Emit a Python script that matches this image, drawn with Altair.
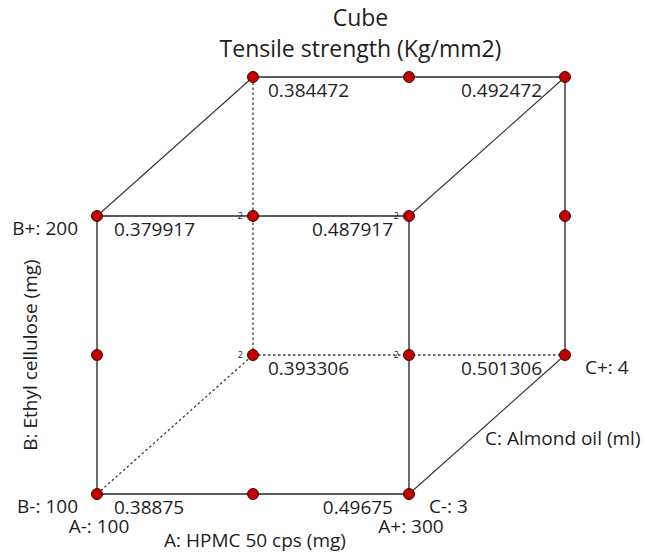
import altair as alt
import pandas as pd

# ---- data (coded levels -1/0/+1 of factors A, B, C) ----
corner_A = [-1, 1, -1, 1, -1, 1, -1, 1]
corner_B = [-1, -1, 1, 1, -1, -1, 1, 1]
corner_C = [-1, -1, -1, -1, 1, 1, 1, 1]
tensile = [0.38875, 0.49675, 0.379917, 0.487917, 0.393306, 0.501306, 0.384472, 0.492472]

# other design points (edge midpoints)
mid_A = [0, -1, 0, 1, 0, 1]
mid_B = [-1, 0, 1, 0, 1, 0]
mid_C = [-1, -1, -1, -1, 1, 1]

# replicated points
rep_A = [0, 1, -1, 1]
rep_B = [1, 1, -1, 0]
rep_C = [-1, -1, 1, -1]
rep_n = ["2", "2", "2", "2"]

A_levels = ["A-: 100", "A+: 300"]
B_levels = ["B-: 100", "B+: 200"]
C_levels = ["C-: 3", "C+: 4"]
title_lines = ["Cube", "Tensile strength (Kg/mm2)"]
A_title = "A: HPMC 50 cps (mg)"
B_title = "B: Ethyl cellulose  (mg)"
C_title = "C: Almond oil (ml)"

FONT = "Open Sans"
TXT = "#1e1e1e"

corners = pd.DataFrame({"A": corner_A, "B": corner_B, "C": corner_C, "y": tensile})
corners["label"] = [f"{v:g}" for v in tensile]
points = pd.concat([
    corners[["A", "B", "C"]],
    pd.DataFrame({"A": mid_A, "B": mid_B, "C": mid_C}),
], ignore_index=True)
reps = pd.DataFrame({"A": rep_A, "B": rep_B, "C": rep_C, "n": rep_n})

# cube edges: corner pairs differing in exactly one factor
rows = []
for i in range(8):
    for j in range(i + 1, 8):
        p = (corner_A[i], corner_B[i], corner_C[i])
        q = (corner_A[j], corner_B[j], corner_C[j])
        diff = [k for k in range(3) if p[k] != q[k]]
        if len(diff) == 1:
            hidden = (-1, -1, 1) in (p, q)
            rows.append({"A": p[0], "B": p[1], "C": p[2],
                         "A2": q[0], "B2": q[1], "C2": q[2],
                         "depth": diff[0] == 2, "hidden": hidden})
edges = pd.DataFrame(rows)

A_lab = pd.DataFrame({"A": [-1, 1], "B": [-1, -1], "C": [-1, -1], "t": A_levels})
B_lab = pd.DataFrame({"A": [-1, -1], "B": [-1, 1], "C": [-1, -1], "t": B_levels})
C_lab = pd.DataFrame({"A": [1, 1], "B": [-1, -1], "C": [-1, 1], "t": C_levels})
A_ttl = pd.DataFrame({"A": [0], "B": [-1], "C": [-1], "t": [A_title]})
B_ttl = pd.DataFrame({"A": [-1], "B": [0], "C": [-1], "t": [B_title]})
C_ttl = pd.DataFrame({"A": [1], "B": [-1], "C": [0], "t": [C_title]})

xs = alt.Scale(domain=[-1.6218, 2.5128], nice=False, zero=False)
ys = alt.Scale(domain=[-1.4388, 2.1223], nice=False, zero=False)


def proj(ch):
    return ch.transform_calculate(
        px="datum.A + (datum.C + 1) / 2",
        py="datum.B + (datum.C + 1) / 2",
    )


def proj_edges(ch):
    return ch.transform_calculate(
        px="datum.A + (datum.C + 1) / 2",
        py="datum.B + (datum.C + 1) / 2",
        px2="datum.A2 + (datum.C2 + 1) / 2",
        py2="datum.B2 + (datum.C2 + 1) / 2",
    )


enc = dict(x=alt.X("px:Q", scale=xs, axis=None), y=alt.Y("py:Q", scale=ys, axis=None))

face = proj_edges(alt.Chart(edges)).transform_filter(
    "!datum.hidden && !datum.depth").mark_rule(color="#5c5c5c", strokeWidth=1.8).encode(
    **enc, x2="px2:Q", y2="py2:Q")
depth = proj_edges(alt.Chart(edges)).transform_filter(
    "!datum.hidden && datum.depth").mark_rule(color="#333333", strokeWidth=1.1).encode(
    **enc, x2="px2:Q", y2="py2:Q")
hidden = proj_edges(alt.Chart(edges)).transform_filter(
    "datum.hidden").mark_rule(color="#3c3c3c", strokeWidth=1.3, strokeDash=[2.5, 2.5]).encode(
    **enc, x2="px2:Q", y2="py2:Q")

dots = proj(alt.Chart(points)).mark_point(
    shape="circle", filled=True, size=120, fill="#c40000", stroke="#3a0000",
    strokeWidth=1, opacity=1).encode(**enc)

rep_txt = proj(alt.Chart(reps)).mark_text(
    align="right", baseline="middle", dx=-10, fontSize=9, font=FONT, color="#222").encode(
    **enc, text="n:N")

val_style = dict(baseline="middle", dy=14, fontSize=19, font=FONT, color=TXT)
v_fl = proj(alt.Chart(corners)).transform_filter("datum.C < 0 && datum.A < 0").mark_text(
    align="left", dx=17, **val_style).encode(**enc, text="label:N")
v_fr = proj(alt.Chart(corners)).transform_filter("datum.C < 0 && datum.A > 0").mark_text(
    align="right", dx=-16, **val_style).encode(**enc, text="label:N")
v_bl = proj(alt.Chart(corners)).transform_filter("datum.C > 0 && datum.A < 0").mark_text(
    align="left", dx=15, **val_style).encode(**enc, text="label:N")
v_br = proj(alt.Chart(corners)).transform_filter("datum.C > 0 && datum.A > 0").mark_text(
    align="right", dx=-23, **val_style).encode(**enc, text="label:N")

lab_style = dict(baseline="middle", fontSize=19, font=FONT, color=TXT)
a_txt = proj(alt.Chart(A_lab)).mark_text(align="center", dx=2, dy=33, **lab_style).encode(**enc, text="t:N")
b_txt = proj(alt.Chart(B_lab)).mark_text(align="right", dx=-19, dy=13, **lab_style).encode(**enc, text="t:N")
c_txt = proj(alt.Chart(C_lab)).mark_text(align="left", dx=20, dy=13, **lab_style).encode(**enc, text="t:N")
a_ttl = proj(alt.Chart(A_ttl)).mark_text(align="center", dx=2, dy=47, **lab_style).encode(**enc, text="t:N")
b_ttl = proj(alt.Chart(B_ttl)).mark_text(align="center", dx=0, dy=-66, angle=270, **lab_style).encode(**enc, text="t:N")
c_ttl = proj(alt.Chart(C_ttl)).mark_text(align="left", dx=-2, dy=14, fontSize=19, font=FONT,
                                         baseline="middle", color=TXT).encode(**enc, text="t:N")

chart = alt.layer(
    face, depth, hidden, dots, rep_txt, v_fl, v_fr, v_bl, v_br,
    a_txt, b_txt, c_txt, a_ttl, b_ttl, c_ttl
).properties(
    width=645, height=495,
    background="white",
    autosize=alt.AutoSizeParams(type="none"),
    padding={"left": 0, "top": 60, "right": 0, "bottom": 0},
    title=alt.TitleParams(text=title_lines, font=FONT, fontSize=23, fontWeight="normal",
                          color=TXT, anchor="middle", dx=38, dy=2, offset=0, lineHeight=31),
).configure_view(stroke=None)

chart.save("out.html", embed_options={"renderer": "svg", "actions": False})
